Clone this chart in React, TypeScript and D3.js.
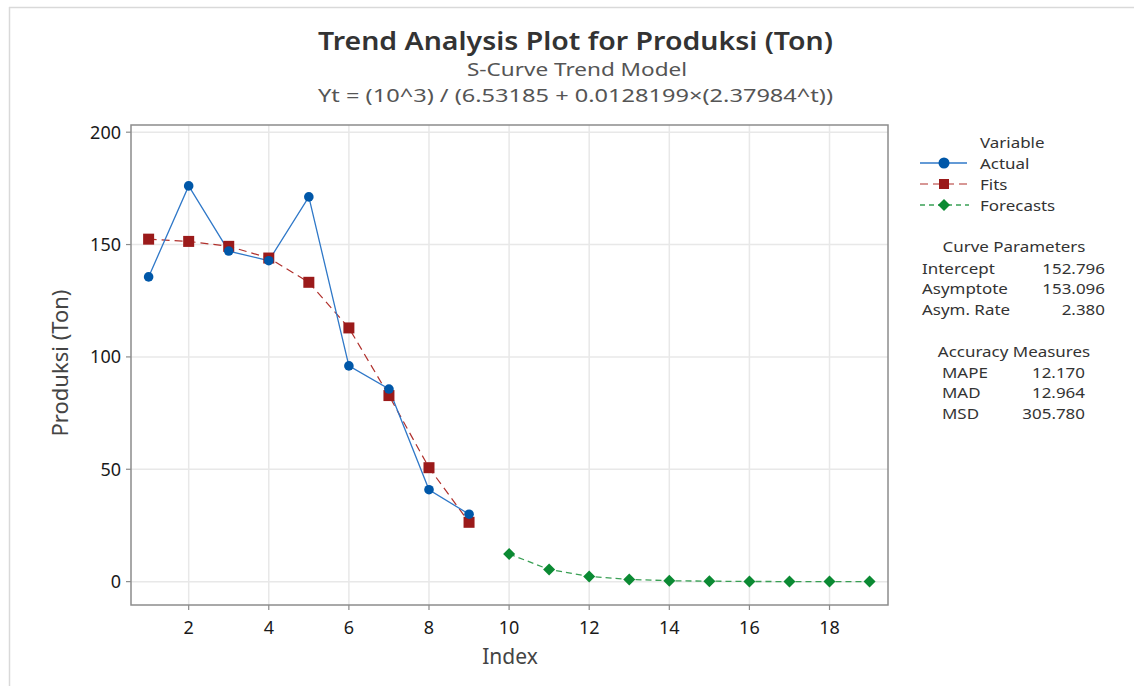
import React from 'react';
import * as d3 from 'd3';

const actualIdx = [1, 2, 3, 4, 5, 6, 7, 8, 9];
const actualVals = [135.6, 176.1, 147.1, 142.8, 171.2, 96.0, 85.7, 40.9, 30.0];
const fitVals = [152.4, 151.4, 149.2, 144.0, 133.2, 112.9, 82.8, 50.7, 26.4];
const forecastIdx = [10, 11, 12, 13, 14, 15, 16, 17, 18, 19];
const forecastVals = [12.3, 5.4, 2.3, 1.0, 0.4, 0.2, 0.07, 0.03, 0.01, 0.01];
const xTicks = [2, 4, 6, 8, 10, 12, 14, 16, 18];
const yTicks = [0, 50, 100, 150, 200];
const curveParams = [['Intercept', '152.796'], ['Asymptote', '153.096'], ['Asym. Rate', '2.380']];
const accuracy = [['MAPE', '12.170'], ['MAD', '12.964'], ['MSD', '305.780']];

const W = 1134;
const H = 686;
const plot = { left: 131, top: 125, right: 888, bottom: 605 };
const font = '"Noto Sans", "Open Sans", sans-serif';

const colActual = '#0057a8';
const colActualLine = '#2f78c8';
const colFit = '#9b1a1a';
const colFitLine = '#b0302c';
const colFc = '#0b8a33';
const colFcLine = '#3aa055';

// legend panel is drawn slightly stretched horizontally, like the source
const legX = 920;
const legS = 1.13;
const lx = (X: number) => (X - legX) / legS;

const App = () => {
    const x = d3.scaleLinear().domain([0.56, 19.46]).range([plot.left, plot.right]);
    const y = d3.scaleLinear().domain([-10.4, 203.2]).range([plot.bottom, plot.top]);

    const line = d3.line<[number, number]>().x(d => x(d[0])).y(d => y(d[1]));
    const actual = actualIdx.map((t, i) => [t, actualVals[i]] as [number, number]);
    const fits = actualIdx.map((t, i) => [t, fitVals[i]] as [number, number]);
    const fcs = forecastIdx.map((t, i) => [t, forecastVals[i]] as [number, number]);

    const sq = 5.5;
    const dm = 6;
    const diamond = (cx: number, cy: number, r: number) =>
        `M${cx},${cy - r}L${cx + r},${cy}L${cx},${cy + r}L${cx - r},${cy}Z`;

    return (
        <svg width={W} height={H} style={{ position: 'absolute', left: 0, top: 0, background: '#fff' }}
            fontFamily={font}>
            {/* outer frame */}
            <line x1={9} x2={W} y1={7.5} y2={7.5} stroke="#d9d9d9" strokeWidth={1.5} />
            <line x1={9.5} x2={9.5} y1={7} y2={H} stroke="#d9d9d9" strokeWidth={1.5} />

            {/* titles */}
            <text x={318} y={50} fontSize={24.5} fontWeight={600} fill="#333" textLength={515} lengthAdjust="spacingAndGlyphs">
                Trend Analysis Plot for Produksi (Ton)
            </text>
            <text x={467} y={76} fontSize={18} fill="#555" textLength={220} lengthAdjust="spacingAndGlyphs">
                S-Curve Trend Model
            </text>
            <text x={318} y={101.5} fontSize={18} fill="#555" textLength={515} lengthAdjust="spacingAndGlyphs">
                Yt = (10^3) / (6.53185 + 0.0128199×(2.37984^t))
            </text>

            {/* grid */}
            {xTicks.map(t => (
                <line key={'gx' + t} x1={x(t)} x2={x(t)} y1={plot.top} y2={plot.bottom} stroke="#e8e8e8" strokeWidth={1.5} />
            ))}
            {yTicks.map(t => (
                <line key={'gy' + t} x1={plot.left} x2={plot.right} y1={y(t)} y2={y(t)} stroke="#e8e8e8" strokeWidth={1.5} />
            ))}

            {/* frame */}
            <rect x={plot.left} y={plot.top} width={plot.right - plot.left} height={plot.bottom - plot.top}
                fill="none" stroke="#8c8c8c" strokeWidth={1.5} />

            {/* ticks */}
            {xTicks.map(t => (
                <g key={'tx' + t}>
                    <line x1={x(t)} x2={x(t)} y1={plot.bottom} y2={plot.bottom + 5} stroke="#8c8c8c" strokeWidth={1.2} />
                    <text x={x(t)} y={plot.bottom + 29} textAnchor="middle" fontSize={18} fill="#1a1a1a">{t}</text>
                </g>
            ))}
            {yTicks.map(t => (
                <g key={'ty' + t}>
                    <line x1={plot.left - 5} x2={plot.left} y1={y(t)} y2={y(t)} stroke="#8c8c8c" strokeWidth={1.2} />
                    <text x={plot.left - 10} y={y(t) + 6.5} textAnchor="end" fontSize={18} fill="#1a1a1a">{t}</text>
                </g>
            ))}

            {/* axis titles */}
            <text x={510} y={664} textAnchor="middle" fontSize={21} fill="#444">Index</text>
            <text transform={`translate(68,363) rotate(-90)`} textAnchor="middle"
                fontSize={22} fill="#444">Produksi (Ton)</text>

            {/* series */}
            <path d={line(fits) || ''} fill="none" stroke={colFitLine} strokeWidth={1.2} strokeDasharray="8,5" />
            <path d={line(actual) || ''} fill="none" stroke={colActualLine} strokeWidth={1.3} />
            <path d={line(fcs) || ''} fill="none" stroke={colFcLine} strokeWidth={1.3} strokeDasharray="6,4" />
            {fits.map((d, i) => (
                <rect key={'f' + i} x={x(d[0]) - sq} y={y(d[1]) - sq} width={sq * 2} height={sq * 2} fill={colFit} />
            ))}
            {actual.map((d, i) => (
                <circle key={'a' + i} cx={x(d[0])} cy={y(d[1])} r={4.8} fill={colActual} />
            ))}
            {fcs.map((d, i) => (
                <path key={'c' + i} d={diamond(x(d[0]), y(d[1]), dm)} fill={colFc} />
            ))}

            {/* legend symbols */}
            <line x1={920} x2={967} y1={163} y2={163} stroke={colActualLine} strokeWidth={1.3} />
            <circle cx={944} cy={163} r={5.5} fill={colActual} />
            <line x1={920} x2={967} y1={184} y2={184} stroke={colFitLine} strokeWidth={1.2} strokeDasharray="8,5" />
            <rect x={939} y={179} width={10} height={10} fill={colFit} />
            <line x1={920} x2={969} y1={205} y2={205} stroke={colFcLine} strokeWidth={1.3} strokeDasharray="5,4" />
            <path d={diamond(944, 205, 6)} fill={colFc} />

            {/* legend & stats text */}
            <g transform={`translate(${legX},0) scale(${legS},1)`} fontSize={15} fill="#333">
                <text x={lx(980)} y={148}>Variable</text>
                <text x={lx(980)} y={169}>Actual</text>
                <text x={lx(980)} y={190}>Fits</text>
                <text x={lx(980)} y={211}>Forecasts</text>

                <text x={lx(1014)} y={252} textAnchor="middle">Curve Parameters</text>
                {curveParams.map((r, i) => (
                    <g key={r[0]}>
                        <text x={lx(922)} y={274 + i * 20.5}>{r[0]}</text>
                        <text x={lx(1105)} y={274 + i * 20.5} textAnchor="end">{r[1]}</text>
                    </g>
                ))}
                <text x={lx(1014)} y={357} textAnchor="middle">Accuracy Measures</text>
                {accuracy.map((r, i) => (
                    <g key={r[0]}>
                        <text x={lx(942)} y={378 + i * 20.5}>{r[0]}</text>
                        <text x={lx(1085)} y={378 + i * 20.5} textAnchor="end">{r[1]}</text>
                    </g>
                ))}
            </g>
        </svg>
    );
};

export default App;
